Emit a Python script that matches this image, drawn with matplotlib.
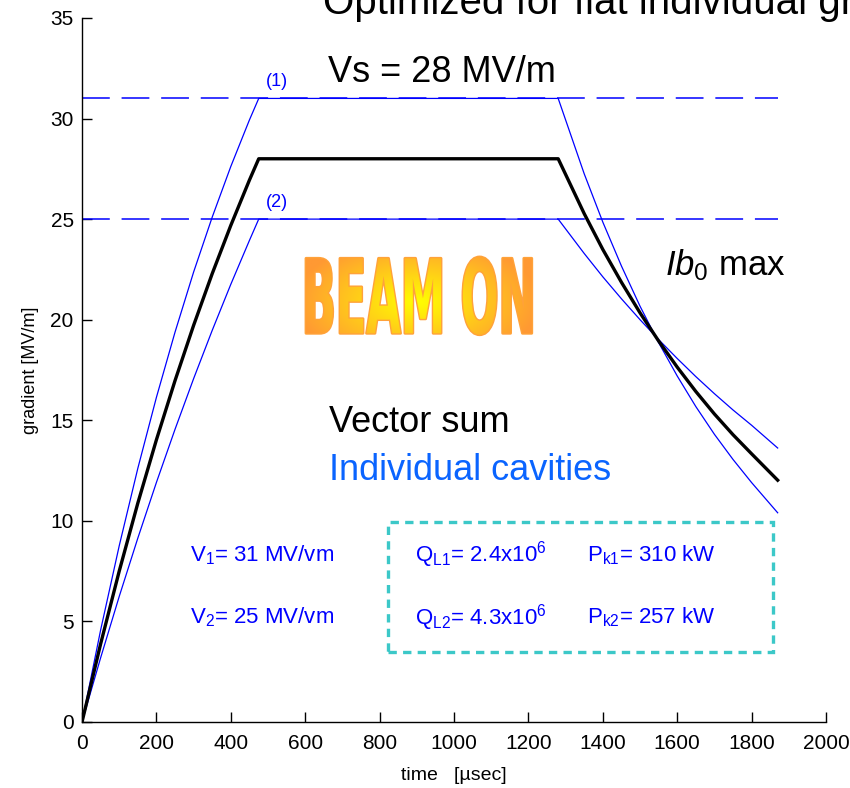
import numpy as np
import matplotlib
matplotlib.use("Agg")
import matplotlib.pyplot as plt
from matplotlib import font_manager
from matplotlib.textpath import TextPath
from matplotlib.patches import PathPatch, Rectangle
from matplotlib.font_manager import FontProperties
from matplotlib.transforms import Affine2D

# ---------------------------------------------------------------- data
# time axis [usec] and gradients [MV/m]
t_fill = [0, 50, 100, 150, 200, 250, 300, 350, 400, 450, 475]
cav1_fill = [0.0, 4.57, 8.76, 12.61, 16.14, 19.38, 22.37, 25.10, 27.62, 29.93, 31.0]
cav2_fill = [0.0, 3.19, 6.24, 9.14, 11.91, 14.55, 17.07, 19.47, 21.76, 23.94, 25.0]
vsum_fill = [0.0, 3.88, 7.50, 10.88, 14.03, 16.97, 19.72, 22.29, 24.69, 26.94, 28.0]

t_decay = [1280, 1350, 1400, 1450, 1500, 1550, 1600, 1650, 1700, 1750, 1800, 1870]
cav1_decay = [31.0, 27.25, 24.85, 22.67, 20.67, 18.86, 17.20, 15.68, 14.30, 13.05, 11.90, 10.40]
cav2_decay = [25.0, 23.29, 22.13, 21.04, 20.00, 19.01, 18.07, 17.17, 16.32, 15.51, 14.75, 13.62]
vsum_decay = [28.0, 25.27, 23.49, 21.86, 20.34, 18.94, 17.64, 16.43, 15.31, 14.28, 13.33, 12.02]

v1_level = 31
v2_level = 25
ref_t_end = 1870

x_ticks = [0, 200, 400, 600, 800, 1000, 1200, 1400, 1600, 1800, 2000]
y_ticks = [0, 5, 10, 15, 20, 25, 30, 35]

# ---------------------------------------------------------------- fonts
names = {f.name for f in font_manager.fontManager.ttflist}
tick_font = "Liberation Sans Narrow" if "Liberation Sans Narrow" in names else "Liberation Sans"
plt.rcParams["font.family"] = ["Liberation Sans", "DejaVu Sans"]
plt.rcParams["mathtext.fontset"] = "custom"
plt.rcParams["mathtext.rm"] = "Liberation Sans"
plt.rcParams["mathtext.it"] = "Liberation Sans:italic"
plt.rcParams["mathtext.bf"] = "Liberation Sans:bold"
plt.rcParams["lines.scale_dashes"] = False

BLUE = "#0000FF"
LBLUE = "#0A64FF"
TEAL = "#3CC8C8"

fig = plt.figure(figsize=(8.5, 7.88), dpi=100)
ax = fig.add_axes([0.0965, 0.0838, 0.8753, 0.8934])
ax.set_xlim(0, 2000)
ax.set_ylim(0, 35)

# reference levels
ax.plot([0, ref_t_end], [v1_level, v1_level], color=BLUE, lw=1.1, dashes=[20, 8.5])
ax.plot([0, ref_t_end], [v2_level, v2_level], color=BLUE, lw=1.1, dashes=[20, 8.5])

# individual cavities
for fill, dec in ((cav1_fill, cav1_decay), (cav2_fill, cav2_decay)):
    ax.plot(t_fill + t_decay, fill + dec, color=BLUE, lw=0.9)

# vector sum
ax.plot(t_fill + t_decay, vsum_fill + vsum_decay, color="black", lw=2.4)

# axes styling
for s in ("top", "right"):
    ax.spines[s].set_visible(False)
ax.spines["left"].set_linewidth(1.0)
ax.spines["bottom"].set_linewidth(1.0)
ax.set_xticks(x_ticks)
ax.set_yticks(y_ticks)
ax.tick_params(direction="in", length=7, width=1, labelsize=15)
ax.tick_params(axis="x", pad=9)
ax.tick_params(axis="y", pad=6)
for lab in ax.get_xticklabels() + ax.get_yticklabels():
    lab.set_family(tick_font)
ax.set_xlabel("time   [\u00b5sec]", fontsize=14, family=tick_font, labelpad=10)
ax.set_ylabel("gradient [MV/m]", fontsize=13, family=tick_font, labelpad=8)

# labels on the traces
ax.text(495, 31.4, "(1)", color=BLUE, fontsize=13, family=tick_font, ha="left", va="bottom")
ax.text(495, 25.4, "(2)", color=BLUE, fontsize=13, family=tick_font, ha="left", va="bottom")
ax.text(662, 32.3, "Vs = 28 MV/m", fontsize=26, family=tick_font, ha="left", va="center")
ax.text(1566, 22.7, r"$\mathit{Ib}_{\mathit{0}}$ max", fontsize=25, ha="left", va="center")
ax.text(665, 14.9, "Vector sum", fontsize=26, ha="left", va="center")
ax.text(665, 12.5, "Individual cavities", fontsize=26, color=LBLUE, ha="left", va="center")

# cavity parameters
pfs = 16
ax.text(290, 8.3, r"V$_1$= 31 MV/vm", color=BLUE, fontsize=pfs, ha="left", va="center")
ax.text(290, 5.2, r"V$_2$= 25 MV/vm", color=BLUE, fontsize=pfs, ha="left", va="center")
ax.text(895, 8.3, r"Q$_{\mathrm{L1}}$= 2.4x10$^6$", color=BLUE, fontsize=pfs, ha="left", va="center")
ax.text(895, 5.2, r"Q$_{\mathrm{L2}}$= 4.3x10$^6$", color=BLUE, fontsize=pfs, ha="left", va="center")
ax.text(1357, 8.3, r"P$_{\mathrm{k1}}$= 310 kW", color=BLUE, fontsize=pfs, ha="left", va="center")
ax.text(1357, 5.2, r"P$_{\mathrm{k2}}$= 257 kW", color=BLUE, fontsize=pfs, ha="left", va="center")
ax.add_patch(Rectangle((823, 3.48), 1035, 6.47, fill=False, edgecolor=TEAL,
                       lw=2.4, linestyle=(0, (6, 4.5)), clip_on=False))

# gradient-filled "BEAM ON" banner
box = (602, 1209, 19.25, 23.12)
tp = TextPath((0, 0), "BEAM ON", size=1, prop=FontProperties(family="DejaVu Sans", weight="bold"))
ext = tp.get_extents()
sx = (box[1] - box[0]) / ext.width
sy = (box[3] - box[2]) / ext.height
tr = Affine2D().translate(-ext.x0, -ext.y0).scale(sx, sy).translate(box[0], box[2])
path = tr.transform_path(tp)
patch = PathPatch(path, facecolor="none", edgecolor="#FFA23A", lw=2.0,
                  joinstyle="round", transform=ax.transData)
ax.add_patch(patch)
gx = np.linspace(box[0], box[1], 300)
gy = np.linspace(box[2], box[3], 120)
GX, GY = np.meshgrid(gx, gy)
cx, cy = 900, 20.9
r = np.sqrt(((GX - cx) / 330.0) ** 2 + ((GY - cy) / 3.2) ** 2)
r = np.clip(r, 0, 1)
c_in = np.array([1.0, 1.0, 0.0])
c_out = np.array([1.0, 0.60, 0.20])
img = c_in[None, None, :] * (1 - r[..., None]) + c_out[None, None, :] * r[..., None]
im = ax.imshow(img, extent=(box[0], box[1], box[2], box[3]), origin="lower",
               aspect="auto", interpolation="bilinear", zorder=3)
im.set_clip_path(patch)

# heading running off the top edge
fig.text(0.380, 1 - 14 / 788, "Optimized for flat individual gradients", fontsize=29,
         family=tick_font, ha="left", va="baseline")

fig.savefig("out.png", dpi=100)
